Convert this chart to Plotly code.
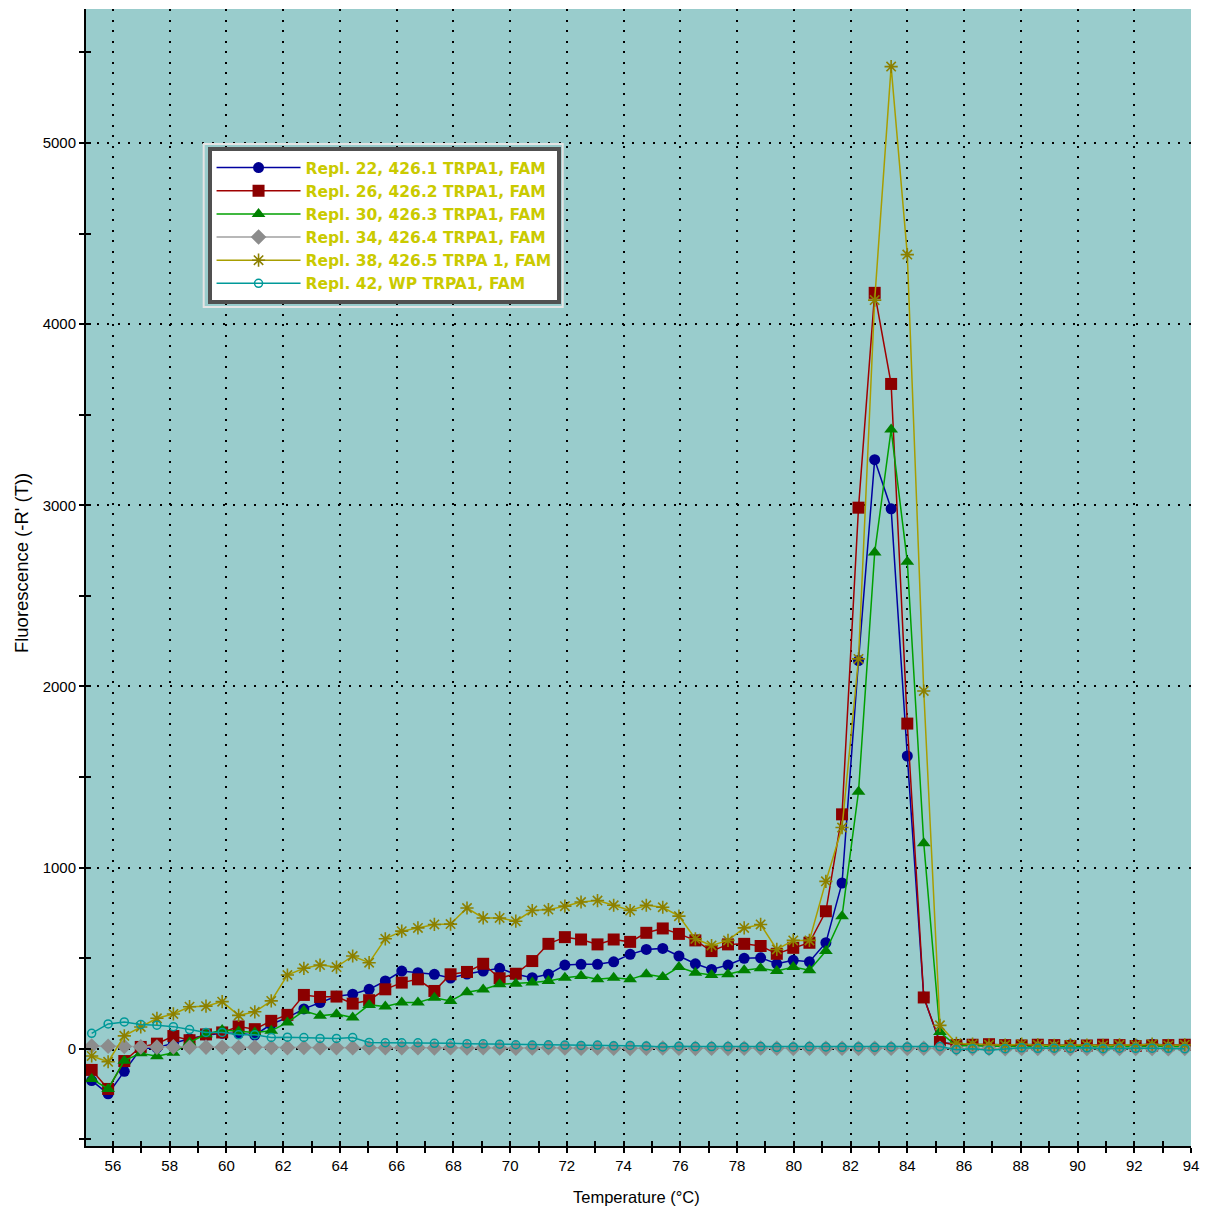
import plotly.graph_objects as go

temperature = [55.25, 55.83, 56.40, 56.98, 57.55, 58.13, 58.70, 59.28, 59.85, 60.43,
               61.00, 61.58, 62.15, 62.73, 63.30, 63.88, 64.45, 65.03, 65.60, 66.18,
               66.75, 67.33, 67.90, 68.48, 69.05, 69.63, 70.20, 70.78, 71.35, 71.93,
               72.50, 73.08, 73.65, 74.23, 74.80, 75.38, 75.95, 76.53, 77.10, 77.68,
               78.25, 78.83, 79.40, 79.98, 80.55, 81.13, 81.70, 82.28, 82.85, 83.43,
               84.00, 84.58, 85.15, 85.73, 86.30, 86.88, 87.45, 88.03, 88.60, 89.18,
               89.75, 90.33, 90.90, 91.48, 92.05, 92.63, 93.20, 93.78]

repl22 = [-176, -249, -125, 0, 5, 30, 55, 75, 85, 85, 75, 135, 172, 220, 255, 290, 301, 328, 374, 429,
          420, 411, 390, 412, 429, 444, 411, 392, 411, 462, 466, 466, 480, 521, 548, 554, 512, 469, 438, 462,
          499, 502, 469, 488, 480, 585, 915, 2143, 3252, 2981, 1616, 285, 33, 25, 20, 18, 22, 20, 25, 18,
          22, 15, 20, 18, 22, 25, 20, 18]
repl26 = [-117, -222, -68, 10, 28, 70, 47, 79, 90, 123, 108, 154, 187, 297, 286, 288, 249, 268, 328, 365,
          383, 319, 411, 424, 469, 389, 414, 484, 579, 616, 603, 576, 603, 590, 640, 664, 634, 598, 539, 576,
          579, 567, 524, 557, 585, 759, 1294, 2987, 4173, 3670, 1795, 283, 37, 20, 22, 25, 20, 18, 22, 20,
          15, 18, 22, 20, 15, 18, 20, 22]
repl30 = [-167, -222, -66, -25, -42, -22, 35, 80, 104, 95, 90, 99, 145, 209, 182, 191, 172, 242, 233, 255,
          255, 282, 264, 312, 327, 356, 359, 365, 374, 392, 402, 383, 392, 383, 411, 396, 451, 420, 407, 411,
          433, 444, 429, 451, 433, 539, 732, 1419, 2739, 3418, 2689, 1135, 92, 15, 18, 12, 15, 10, 12, 15,
          10, 12, 8, 12, 10, 15, 12, 10]
repl34 = [15, 14, 12, 10, 9, 10, 8, 9, 8, 7, 8, 7, 6, 7, 6, 5, 6, 5, 5, 6,
          5, 4, 5, 4, 5, 4, 3, 4, 5, 4, 3, 4, 3, 2, 3, 4, 3, 2, 3, 2,
          3, 4, 3, 2, 3, 2, 3, 2, 2, 3, 2, 3, 2, 1, 2, 1, 0, 1, 2, 1,
          0, 1, 0, 1, 2, 1, 0, 1]
repl38 = [-40, -72, 71, 120, 168, 192, 232, 235, 260, 184, 204, 264, 407, 444, 462, 451, 512, 475, 607, 649,
          667, 686, 688, 777, 722, 722, 704, 763, 768, 787, 810, 818, 792, 763, 792, 781, 732, 607, 570, 598,
          667, 686, 548, 598, 598, 924, 1221, 2152, 4133, 5422, 4384, 1975, 129, 30, 25, 22, 20, 25, 22, 18,
          22, 20, 18, 22, 20, 25, 18, 22]
repl42 = [85, 137, 148, 134, 130, 122, 106, 90, 90, 77, 77, 62, 64, 62, 57, 57, 62, 35, 33, 33,
          33, 30, 30, 28, 27, 25, 22, 20, 22, 20, 18, 20, 16, 18, 15, 10, 14, 12, 12, 12,
          10, 12, 8, 10, 12, 10, 8, 10, 8, 10, 10, 8, 12, -5, 0, -8, 0, 5, 2, 3,
          2, 5, 0, 3, 2, 3, 2, 0]

series_names = ["Repl. 22, 426.1 TRPA1, FAM",
                "Repl. 26, 426.2 TRPA1, FAM",
                "Repl. 30, 426.3 TRPA1, FAM",
                "Repl. 34, 426.4 TRPA1, FAM",
                "Repl. 38, 426.5 TRPA 1, FAM",
                "Repl. 42, WP TRPA1, FAM"]

series_values = [repl22, repl26, repl30, repl34, repl38, repl42]

styles = [
    dict(line="#0000A0", marker=dict(symbol="circle", size=11, color="#000090")),
    dict(line="#A00000", marker=dict(symbol="square", size=12, color="#8B0000")),
    dict(line="#00A000", marker=dict(symbol="triangle-up", size=12, color="#008000")),
    dict(line="#A0A0A0", marker=dict(symbol="diamond", size=12, color="#8C8C8C")),
    dict(line="#A89E00", marker=dict(symbol="asterisk", size=11, color="#8C8000",
                                     line=dict(color="#8C8000", width=1.6))),
    dict(line="#009999", marker=dict(symbol="circle-open", size=8, color="#009999",
                                     line=dict(color="#009999", width=1.5))),
]

fig = go.Figure()
for name, vals, st in zip(series_names, series_values, styles):
    fig.add_trace(go.Scatter(
        x=temperature, y=vals, name=name, mode="lines+markers",
        line=dict(color=st["line"], width=1.5),
        marker=st["marker"],
    ))

# helper trace so the overlay axes (cross ticks) get drawn
fig.add_trace(go.Scatter(x=[], y=[], xaxis="x2", yaxis="y2", showlegend=False,
                         hoverinfo="skip"))

x_range = [55.05, 94.0]
y_range = [-537, 5740]
grid_dash = "2px,8.5px"
tick_font = dict(family="Liberation Sans, Arial", size=15, color="#000000")

fig.update_layout(
    width=1208, height=1209,
    margin=dict(l=86, r=14, t=9, b=63),
    paper_bgcolor="#FFFFFF",
    plot_bgcolor="#99CCCC",
    showlegend=True,
    legend=dict(
        x=0.110, y=0.8786, xanchor="left", yanchor="top",
        bgcolor="#FFFFFF", bordercolor="#505050", borderwidth=4,
        font=dict(family="DejaVu Sans, Verdana", size=15.5, color="#CACA00", weight="bold"),
        itemwidth=84, tracegroupgap=0,
    ),
    xaxis=dict(
        range=x_range, tick0=0, dtick=2,
        showline=True, linecolor="#000000", linewidth=2,
        ticks="outside", ticklen=5, tickwidth=1.5, tickcolor="#000000",
        tickfont=tick_font,
        showgrid=True, gridcolor="#000000", gridwidth=1.5, griddash=grid_dash,
        zeroline=False,
        minor=dict(dtick=1, tick0=0, ticks="outside", ticklen=5, tickwidth=1.5,
                   tickcolor="#000000", showgrid=False),
    ),
    yaxis=dict(
        range=y_range, tick0=0, dtick=1000,
        showline=True, linecolor="#000000", linewidth=2,
        ticks="outside", ticklen=5, tickwidth=1.5, tickcolor="#000000",
        tickfont=tick_font,
        showgrid=True, gridcolor="#000000", gridwidth=1.5, griddash=grid_dash,
        zeroline=False,
        minor=dict(dtick=500, tick0=0, ticks="outside", ticklen=5, tickwidth=1.5,
                   tickcolor="#000000", showgrid=False),
    ),
    xaxis2=dict(
        range=x_range, overlaying="x", anchor="y", side="bottom",
        tick0=0, dtick=1, ticks="inside", ticklen=5, tickwidth=1.5, tickcolor="#000000",
        showticklabels=False, showgrid=False, showline=False, zeroline=False,
    ),
    yaxis2=dict(
        range=y_range, overlaying="y", anchor="x", side="left",
        tick0=0, dtick=500, ticks="inside", ticklen=5, tickwidth=1.5, tickcolor="#000000",
        showticklabels=False, showgrid=False, showline=False, zeroline=False,
    ),
    annotations=[
        dict(text="Temperature (°C)", xref="paper", yref="paper", x=0.4982, y=-0.0449,
             xanchor="center", yanchor="middle", showarrow=False,
             font=dict(family="Liberation Sans, Arial", size=16.5, color="#000000")),
        dict(text="Fluorescence (-R' (T))", xref="paper", yref="paper", x=-0.0578, y=0.5128,
             xanchor="center", yanchor="middle", showarrow=False, textangle=-90,
             font=dict(family="Liberation Sans, Arial", size=18.5, color="#000000")),
    ],
    shapes=[
        dict(type="rect", xref="paper", yref="paper", layer="above",
             x0=(204 - 86) / 1108, x1=(564 - 86) / 1108,
             y0=(1146 - 307) / 1137, y1=(1146 - 144) / 1137,
             line=dict(color="#E4E4E4", width=2), fillcolor="rgba(0,0,0,0)"),
    ],
)

fig.write_html("out.html", config={"displayModeBar": False},
               post_script="document.body.style.margin='0';")
